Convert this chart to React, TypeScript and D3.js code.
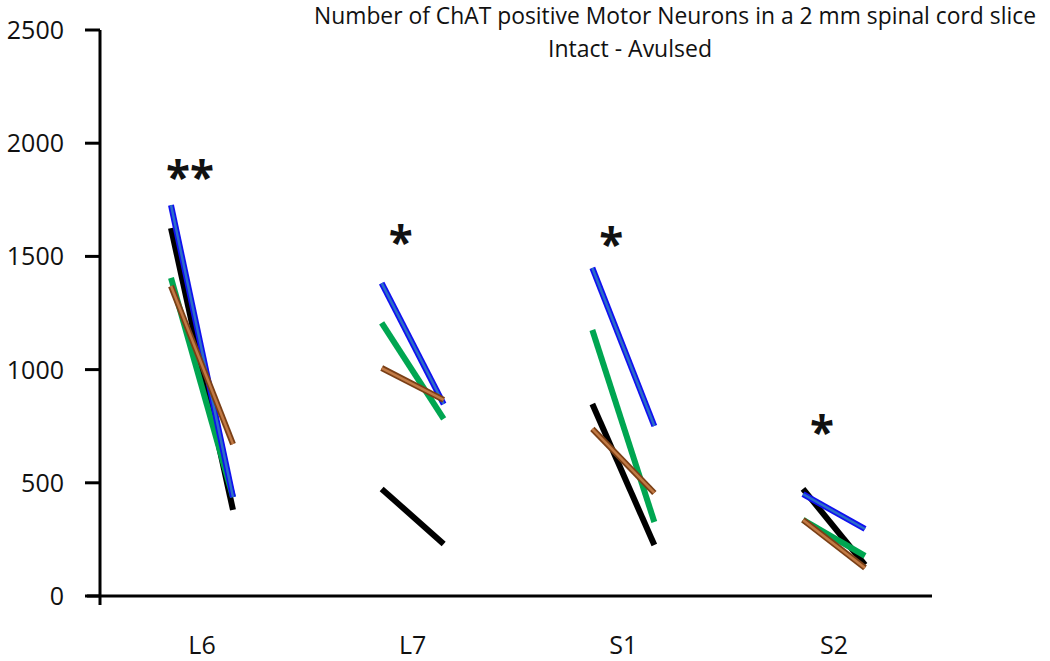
import React from "react";
import * as d3 from "d3";

const segments = ["L6", "L7", "S1", "S2"];
const yTicks = [0, 500, 1000, 1500, 2000, 2500];

const blackIntact = [1625, 473, 848, 473];
const blackAvulsed = [380, 230, 225, 137];
const greenIntact = [1405, 1206, 1175, 336];
const greenAvulsed = [437, 782, 327, 177];
const blueIntact = [1727, 1382, 1449, 450];
const blueAvulsed = [437, 848, 751, 296];
const brownIntact = [1369, 1007, 738, 336];
const brownAvulsed = [671, 866, 455, 124];

const significance = ["**", "*", "*", "*"];
const starLevel = [1925, 1640, 1630, 800];

const titleLine1 = "Number of ChAT positive Motor Neurons in a 2 mm spinal cord slice";
const titleLine2 = "Intact - Avulsed";

const series = [
  { name: "black", intact: blackIntact, avulsed: blackAvulsed, outer: "#000000", inner: null },
  { name: "green", intact: greenIntact, avulsed: greenAvulsed, outer: "#00a651", inner: null },
  { name: "blue", intact: blueIntact, avulsed: blueAvulsed, outer: "#1010f0", inner: "#2b6ec8" },
  { name: "brown", intact: brownIntact, avulsed: brownAvulsed, outer: "#7a3f16", inner: "#c27a45" },
];

const W = 1050;
const H = 661;
const FONT = "'Open Sans', 'Noto Sans', sans-serif";

export default function App() {
  const y = d3.scaleLinear().domain([0, 2500]).range([596, 30]);
  const x = d3.scalePoint<string>().domain(segments).range([202, 834]);
  const axisX = 100;
  const off = 31;

  return (
    <svg width={W} height={H} style={{ position: "absolute", left: 0, top: 0, background: "#fff" }}>
      {/* title */}
      <text x={675} y={24} textAnchor="middle" fontFamily={FONT} fontSize={23} fill="#111" textLength={722} lengthAdjust="spacingAndGlyphs">
        {titleLine1}
      </text>
      <text x={630} y={57} textAnchor="middle" fontFamily={FONT} fontSize={23} fill="#111">
        {titleLine2}
      </text>

      {/* y axis */}
      <line x1={axisX} x2={axisX} y1={y(2500)} y2={y(0) + 9} stroke="#000" strokeWidth={3} />
      <line x1={87} x2={932} y1={y(0)} y2={y(0)} stroke="#000" strokeWidth={3} />
      {yTicks.map((t) => (
        <g key={t}>
          <line x1={85} x2={axisX} y1={y(t)} y2={y(t)} stroke="#000" strokeWidth={3} />
          <text x={64} y={y(t)} dy="0.36em" textAnchor="end" fontFamily={FONT} fontSize={25} fill="#111">
            {t}
          </text>
        </g>
      ))}

      {/* category labels */}
      {segments.map((s) => (
        <text key={s} x={x(s)} y={654} textAnchor="middle" fontFamily={FONT} fontSize={25} fill="#111">
          {s}
        </text>
      ))}

      {/* lines */}
      {series.map((sr) =>
        segments.map((s, i) => {
          const cx = x(s) as number;
          const x1 = cx - off;
          const x2 = cx + off;
          const y1 = y(sr.intact[i]);
          const y2 = y(sr.avulsed[i]);
          return (
            <g key={sr.name + s}>
              <line x1={x1} y1={y1} x2={x2} y2={y2} stroke={sr.outer} strokeWidth={6} />
              {sr.inner && <line x1={x1} y1={y1} x2={x2} y2={y2} stroke={sr.inner} strokeWidth={2.5} />}
            </g>
          );
        })
      )}

      {/* significance */}
      {segments.map((s, i) => (
        <text key={"sig" + s} x={(x(s) as number) - 12} y={y(starLevel[i])} dy="0.75em" textAnchor="middle" fontFamily={FONT} fontSize={44} fontWeight="bold" fill="#111">
          {significance[i]}
        </text>
      ))}
    </svg>
  );
}
